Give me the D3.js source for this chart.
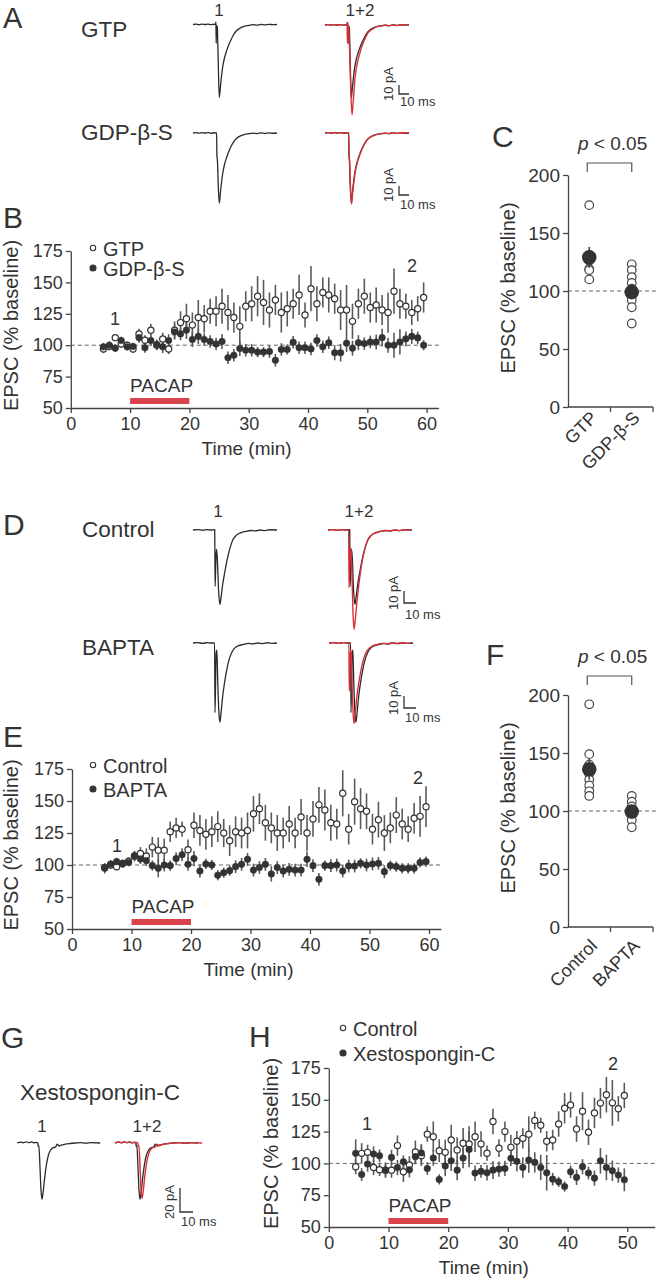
<!DOCTYPE html>
<html><head><meta charset="utf-8">
<script src="https://cdnjs.cloudflare.com/ajax/libs/d3/7.8.5/d3.min.js"></script>
<style>
body{margin:0;background:#fff}
svg{display:block}
text{font-family:"Liberation Sans",Arial,Helvetica,sans-serif;fill:#333}
</style>
</head><body>
<svg id="fig" width="656" height="1280"></svg>
<script>
// ---------------- DATA ----------------
// Panel B (time in min, EPSC % baseline, SEM)
const timeB = [5.5,6.5,7.5,8.5,9.5,10.5,11.5,12.5,13.5,14.5,15.5,16.5,17.5,18.5,19.5,20.5,21.5,22.5,23.5,24.5,25.5,26.5,27.5,28.5,29.5,30.5,31.5,32.5,33.5,34.5,35.5,36.5,37.5,38.5,39.5,40.5,41.5,42.5,43.5,44.5,45.5,46.5,47.5,48.5,49.5,50.5,51.5,52.5,53.5,54.5,55.5,56.5,57.5,58.5,59.5];
const gtpB = [97,99,106,101,100,97,109,104,112,100,105,97,112,118,121,116,122,121,127,127,131,126,122,115,131,133,139,134,128,136,126,129,133,140,124,145,133,142,140,137,128,128,119,133,139,130,132,128,126,143,133,131,126,129,138];
const gtpBErr = [3,2,2,3,3,3,4,4,5,4,5,4,7,9,12,10,14,11,10,12,14,14,12,16,12,14,16,18,14,12,16,14,12,16,10,18,14,12,14,12,16,20,14,12,14,12,14,12,16,18,12,10,10,10,12];
const gdpB = [98.7,100,97.6,103.7,98.7,99,106,98,103.7,100.5,98.7,103.7,110.5,109,112,104.5,107,104.5,103,101,103,90,92,97.4,96,96,94.5,94.5,95,88,96.6,96.6,102.4,98,98,97,103.7,98.7,102,94,94,101.6,97.6,102,101.3,102.6,102.6,106,100,100,102.6,105,107,105.8,100];
const gdpBErr = [3,3,3,3,3,3,4,4,4,4,5,5,6,5,7,6,6,5,5,5,6,5,5,6,5,5,4,4,5,5,5,4,5,5,5,5,5,5,5,6,7,7,6,6,5,5,6,7,6,10,10,6,6,5,4];

// Panel C (individual cells and mean +/- SEM)
const catsC = ["GTP","GDP-\u03b2-S"];
const cellsC = [[174,131,126,119,118,110],[123,118,112,107,102,97,92,86,72]];
const meanC = [129,99];
const semC = [9,4];

// Panel E
const timeE = [5.5,6.5,7.5,8.5,9.5,10.5,11.5,12.5,13.5,14.5,15.5,16.5,17.5,18.5,19.5,20.5,21.5,22.5,23.5,24.5,25.5,26.5,27.5,28.5,29.5,30.5,31.5,32.5,33.5,34.5,35.5,36.5,37.5,38.5,39.5,40.5,41.5,42.5,43.5,44.5,45.5,46.5,47.5,48.5,49.5,50.5,51.5,52.5,53.5,54.5,55.5,56.5,57.5,58.5,59.5];
const ctrlE = [98,100,98.7,101,103,107,109,107,114,111.6,111.6,126,129,128,112,131,127,124,126,130,125,119,126,125,127,140,144,133,129,125,125,132,125,137.5,125,136,147,143,133,132,156,128,149.5,144,142,128,135.4,125,129,139,132,128,136.5,138,145.6];
const ctrlEErr = [3,3,3,3,3,4,5,6,8,10,9,8,8,6,8,10,12,12,12,12,11,12,12,12,14,14,12,14,12,14,12,14,12,14,14,14,14,16,14,12,18,12,18,16,14,12,14,14,12,14,12,10,12,16,16];
const baptaE = [97.4,100.8,102.6,101.3,102,107,104.7,103.4,99.5,97.4,100,99.5,105,108,100.5,105,95.3,100.8,100,92,94,95.6,98.7,100.5,104.4,96,98,100.5,93,98,95.3,96.6,96,96,104.4,99.5,88.8,99.5,99.5,100,95.3,99.2,99.2,101.3,100,100.8,101.3,94.8,99.5,98.7,97.4,97.4,97.4,102,102.6];
const baptaEErr = [4,3,3,3,3,4,4,4,4,7,5,4,5,5,5,6,5,4,4,4,4,4,5,5,5,5,5,5,6,5,5,5,5,5,6,5,5,4,5,5,5,5,5,4,5,5,5,5,4,4,4,4,4,4,4];

// Panel F
const catsF = ["Control","BAPTA"];
const cellsF = [[192,149,140,132,127,122,117,113],[113,108,104,100,96,92,86]];
const meanF = [136,99.5];
const semF = [9,4];

// Panel H
const timeH = [4.5,5.5,6.5,7.5,8.5,9.5,10.5,11.5,12.5,13.5,14.5,15.5,16.5,17.5,18.5,19.5,20.5,21.5,22.5,23.5,24.5,25.5,26.5,27.5,28.5,29.5,30.5,31.5,32.5,33.5,34.5,35.5,36.5,37.5,38.5,39.5,40.5,41.5,42.5,43.5,44.5,45.5,46.5,47.5,48.5,49.5];
const ctrlH = [97.4,107.9,108.7,96.8,95,94.7,94.7,114,93.4,98.7,109,106,123,121,110,108.7,118.4,110.5,115.8,115.3,121,115.3,108,133,112,125,112.6,117.4,119.7,123,133.7,130,117.4,118.4,131,143.4,146,127,141,124.5,139.7,147.4,154,147.6,143,153.4];
const ctrlHErr = [6,8,6,6,5,6,6,8,8,7,9,8,6,12,9,10,12,10,12,14,12,10,6,10,7,8,10,8,8,14,7,6,8,8,10,12,10,10,15,10,12,12,14,18,10,10];
const xestoH = [107.9,91.3,99.5,107.4,106,94.7,104.7,96.8,101.3,95,105.3,108.2,96,104.2,87.4,98,102,94.7,104.2,111,92.4,93.7,92.6,94.7,95.5,96,104,101.6,96.8,102.6,100.8,96.8,92.6,87.6,85.5,81.8,93.4,89,97.4,92.4,88.4,102,96.8,94.2,90.8,87.1];
const xestoHErr = [11,5,6,6,5,5,6,6,5,6,6,7,5,6,4,8,8,8,8,14,6,5,6,7,6,6,6,8,8,10,8,10,14,5,4,4,5,6,6,5,6,10,10,8,6,9];

const yTicksTS = [50,75,100,125,150,175];
const xTicksB = [0,10,20,30,40,50,60];
const xTicksH = [0,10,20,30,40,50];
const yTicksDot = [0,50,100,150,200];
const pacap = [10,20];

// Example EPSC traces, keypoints: [ms, pA]
const trGTP1 = [[0,0],[3,0.4],[6,-0.3],[9,0.5],[12,0],[15,0.4],[18,-0.2],[21,0.3],[22.6,0],[22.9,3],[23.2,-21],[23.5,-1],[24.3,-3],[25.2,-40],[26.3,-81],[27.5,-68],[29.7,-47],[31.5,-37],[33.7,-29],[36,-22],[38,-17],[40,-12.5],[43,-7.5],[47,-4],[51,-2],[56,-1],[60,-0.2],[64,-0.7],[68,0.1],[72,-0.4],[76,0.2],[80,-0.2],[84,0]];
const trGTP2 = [[0,0],[3,0.4],[6,-0.3],[9,0.4],[12,0],[15,0.4],[18,-0.2],[20.5,0.3],[21.8,0],[22.1,3],[22.4,-20],[22.7,-1],[23.8,-4],[25.3,-55],[27,-100],[28.2,-85],[30.2,-57],[32,-44],[34.2,-34],[36.5,-25],[38.5,-19],[40.5,-14],[43.5,-8],[47.5,-4.5],[51.5,-2],[56,-1],[60,-0.3],[64,-0.8],[68,0],[72,-0.5],[76,0.2],[83,0]];
const trGDP1 = [[0,0],[3,0.5],[6,-0.2],[9,0.5],[12,0],[15,0.4],[18,-0.3],[21,0.3],[23.6,0],[23.9,-25],[24.4,-30],[25.3,-60],[26.3,-78],[27.5,-65],[29.7,-45],[31.5,-35],[33.7,-27],[36,-20],[38,-15],[40,-11],[43,-6.5],[47,-3.5],[51,-1.8],[56,-0.8],[60,-0.2],[64,-0.7],[68,0.2],[72,-0.4],[76,0.2],[80,-0.3],[84,0]];
const trGDP2 = [[0,0],[3,0.4],[6,-0.2],[9,0.5],[12,0],[15,0.4],[18,-0.3],[21,0.2],[22.8,0],[23.1,-25],[23.6,-30],[24.5,-60],[25.5,-79],[26.7,-66],[28.9,-46],[30.7,-35],[33,-27],[35.2,-20],[37.2,-15],[39.2,-11],[42.2,-6.5],[46.2,-3.5],[50.2,-1.8],[55,-0.8],[59,-0.2],[63,-0.7],[67,0.2],[71,-0.4],[75,0.2],[83,0]];
const trCtl1 = [[0,0],[4,0.3],[8,-0.2],[12,0.3],[15,0],[18,0.2],[18.1,0],[18.4,-47],[18.9,-32],[19.5,-16],[20.3,-24],[21.3,-50],[22.4,-62],[23.4,-56],[24.8,-45],[26.5,-35],[28,-27],[30,-18],[31.8,-12],[33.3,-8],[36,-4.5],[40,-2.2],[44,-1.2],[48,-0.4],[52,-0.8],[56,0],[60,-0.5],[64,0.2],[70,0]];
const trCtl2 = [[0,0],[4,0.3],[8,-0.2],[12,0.3],[15,0],[17.2,0],[17.5,-48],[18.2,-26],[19.1,-15],[19.9,-35],[20.8,-68],[21.7,-83],[22.8,-74],[24.3,-58],[26,-43],[27.5,-32],[29.5,-21],[31.5,-13],[33,-9],[35.5,-5],[39.5,-2.5],[43.5,-1.2],[47.5,-0.4],[51.5,-0.8],[55.5,0],[59.5,-0.5],[63.5,0.2],[69,0]];
const trBap1 = [[0,0],[4,0.3],[8,-0.3],[12,0.3],[15,0],[18,0],[18.3,-58],[18.8,-35],[19.3,-8],[19.9,-6],[20.7,-35],[21.6,-58],[22.4,-66],[23.4,-58],[24.8,-44],[26.3,-33],[28,-23],[30,-14],[32,-8.5],[34.5,-4.5],[38,-2.2],[42,-1.2],[46,-0.3],[50,-0.8],[54,0],[58,-0.5],[62,0.2],[66,-0.3],[70,0]];
const trBap2 = [[0,0],[4,0.3],[8,-0.3],[12,0.3],[15,0],[16.6,0],[16.9,-40],[17.4,-20],[17.9,-6],[18.5,-8],[19.3,-38],[20.1,-58],[20.8,-67],[21.8,-59],[23.2,-45],[24.7,-34],[26.4,-24],[28.4,-15],[30.4,-9],[32.9,-5],[36.4,-2.4],[40.4,-1.2],[44,-0.3],[48,-0.8],[52,0],[56,-0.5],[60,0.2],[64,-0.3],[68,0]];
const trXes1 = [[0,0],[3,0.8],[5,0.2],[7,1],[9,0.3],[11,0.9],[13,0.2],[15,0.6],[16,0],[16.3,-3],[16.8,-2],[17.6,-18],[18.4,-38],[19.2,-47],[20.2,-40],[21.4,-28],[22.8,-17],[24.2,-10],[25.8,-6],[27.5,-4],[29.5,-3.5],[31,-1],[32.5,-2.5],[34,-1.8],[37,-1],[41,-0.4],[45,0],[49,0.3],[53,-0.2],[57,0.3],[64,0]];
const trXes2 = [[0,0],[3,0.8],[5,0.2],[7,1],[9,0.3],[11,0.9],[13,0.2],[15,0.6],[17.6,0],[17.9,-3],[18.4,-2],[19.2,-18],[20,-38],[20.8,-46],[21.8,-39],[23,-27],[24.4,-16],[25.8,-9.5],[27.4,-5.5],[29.1,-3.8],[31.1,-3.2],[32.6,-1],[34.1,-2.3],[35.6,-1.6],[38.6,-0.9],[42.6,-0.3],[47,0],[51,0.3],[55,-0.2],[59,0.3],[67,0]];

// ---------------- DRAWING ----------------
const svg = d3.select('#fig');
const FONT = '"Liberation Sans", Arial, Helvetica, sans-serif';
const INK = '#333';
const AX = '#444';
const RED = '#d8303b';
const BARRED = '#d9434b';

function txt(x, y, s, size, opt = {}) {
  const t = svg.append('text').attr('x', x).attr('y', y).attr('font-size', size).text(s);
  if (opt.anchor) t.attr('text-anchor', opt.anchor);
  if (opt.rotate) t.attr('transform', `rotate(${opt.rotate},${x},${y})`);
  return t;
}

function styleAxis(a, fs) {
  a.attr('font-family', FONT);
  a.select('.domain').attr('stroke', AX).attr('stroke-width', 1.3);
  a.selectAll('.tick line').attr('stroke', AX).attr('stroke-width', 1.3);
  a.selectAll('.tick text').attr('font-size', fs).attr('fill', INK);
}

function timeSeries(o) {
  const x = d3.scaleLinear().domain(o.xDomain).range(o.xRange);
  const y = d3.scaleLinear().domain([50, 175]).range(o.yRange);
  const g = svg.append('g');
  g.append('line').attr('x1', x(0)).attr('x2', o.dashEnd).attr('y1', y(100)).attr('y2', y(100))
    .attr('stroke', '#666').attr('stroke-width', 1).attr('stroke-dasharray', '4,3');
  const ax = g.append('g').attr('transform', `translate(0,${y(50)})`)
    .call(d3.axisBottom(x).tickValues(o.xTicks).tickSize(5).tickSizeOuter(0).tickPadding(4));
  const ay = g.append('g').attr('transform', `translate(${x(0)},0)`)
    .call(d3.axisLeft(y).tickValues(yTicksTS).tickSize(5).tickSizeOuter(0).tickPadding(3));
  styleAxis(ax, 18); styleAxis(ay, 18);

  const rows = o.series.map(s => s.t.map((t, i) => ({ t, v: s.v[i], e: s.e[i] })));
  o.series.forEach((s, k) => {
    g.append('g').selectAll('line').data(rows[k]).join('line')
      .attr('x1', d => x(d.t)).attr('x2', d => x(d.t))
      .attr('y1', d => y(d.v - d.e)).attr('y2', d => y(d.v + d.e))
      .attr('stroke', '#5a5a5a').attr('stroke-width', 1.6);
  });
  o.series.forEach((s, k) => {
    g.append('g').selectAll('circle').data(rows[k]).join('circle')
      .attr('cx', d => x(d.t)).attr('cy', d => y(d.v))
      .attr('r', s.filled ? 3.3 : 3.1)
      .attr('fill', s.filled ? INK : '#fff')
      .attr('stroke', INK).attr('stroke-width', s.filled ? 0.5 : 1.2);
  });
  g.append('rect').attr('x', x(pacap[0])).attr('width', x(pacap[1]) - x(pacap[0]))
    .attr('y', o.barY).attr('height', 6).attr('fill', BARRED);
  txt(x(pacap[0]), o.barY - 6, 'PACAP', 19);
  o.legend.forEach((l, i) => {
    svg.append('circle').attr('cx', o.legX).attr('cy', o.legY[i]).attr('r', l.filled ? 3 : 2.7)
      .attr('fill', l.filled ? INK : '#fff').attr('stroke', INK).attr('stroke-width', 1.1);
    txt(o.legX + 10, o.legY[i] + 7.5, l.name, 20);
  });
  txt(o.lab1[0], o.lab1[1], '1', 18, { anchor: 'middle' });
  txt(o.lab2[0], o.lab2[1], '2', 18, { anchor: 'middle' });
  txt((o.xRange[0] + o.xRange[1]) / 2 - 8, y(50) + 47, 'Time (min)', 19, { anchor: 'middle' });
  txt(o.yLabX, (o.yRange[0] + o.yRange[1]) / 2 - 4, 'EPSC (% baseline)', 20, { anchor: 'middle', rotate: -90 });
}

function dotPanel(o) {
  const x = d3.scaleBand().domain(o.cats).range([568, 653]);
  const y = d3.scaleLinear().domain([0, 200]).range([o.yBottom, o.yTop]);
  const g = svg.append('g');
  g.append('line').attr('x1', 568).attr('x2', 656).attr('y1', y(100)).attr('y2', y(100))
    .attr('stroke', '#666').attr('stroke-width', 1).attr('stroke-dasharray', '4,3');
  const ay = g.append('g').attr('transform', 'translate(568,0)')
    .call(d3.axisLeft(y).tickValues(yTicksDot).tickSize(5).tickSizeOuter(0).tickPadding(3));
  styleAxis(ay, 19);
  g.append('line').attr('x1', 568).attr('x2', 653).attr('y1', y(0)).attr('y2', y(0))
    .attr('stroke', AX).attr('stroke-width', 1.3);
  o.cats.forEach((c, i) => {
    const bx = x(c) + x.bandwidth();
    g.append('line').attr('x1', bx).attr('x2', bx).attr('y1', y(0)).attr('y2', y(0) + 5)
      .attr('stroke', AX).attr('stroke-width', 1.3);
    const cx = x(c) + x.bandwidth() / 2;
    g.append('g').selectAll('circle').data(o.cells[i]).join('circle')
      .attr('cx', cx).attr('cy', d => y(d)).attr('r', 4.3)
      .attr('fill', '#fff').attr('stroke', '#444').attr('stroke-width', 1.2);
    g.append('line').attr('x1', cx).attr('x2', cx)
      .attr('y1', y(o.mean[i] - o.sem[i])).attr('y2', y(o.mean[i] + o.sem[i]))
      .attr('stroke', '#444').attr('stroke-width', 1.6);
    g.append('circle').attr('cx', cx).attr('cy', y(o.mean[i])).attr('r', 7.3).attr('fill', INK);
    txt(cx + 9, y(0) + o.labOff, c, 18, { anchor: 'end', rotate: -45 });
  });
  const x1 = x(o.cats[0]) + x.bandwidth() / 2 - 2, x2 = x(o.cats[1]) + x.bandwidth() / 2;
  g.append('path').attr('d', `M${x1},${o.brY + 9}V${o.brY}H${x2}V${o.brY + 9}`)
    .attr('fill', 'none').attr('stroke', '#555').attr('stroke-width', 1.2);
  const p = txt(578, o.brY - 13, '', 19);
  p.append('tspan').attr('font-style', 'italic').text('p');
  p.append('tspan').text(' < 0.05');
  txt(515, (o.yBottom + o.yTop) / 2 - 3, 'EPSC (% baseline)', 20, { anchor: 'middle', rotate: -90 });
}

function drawTrace(data, o, color, w) {
  const xs = d3.scaleLinear().domain([0, 10]).range([o.x0, o.x0 + 10 * o.pxMs]);
  const ys = d3.scaleLinear().domain([0, -10]).range([o.base, o.base + 10 * o.pxPA]);
  svg.append('path')
    .attr('d', d3.line().x(d => xs(d[0])).y(d => ys(d[1])).curve(d3.curveMonotoneX)(data))
    .attr('fill', 'none').attr('stroke', color).attr('stroke-width', w)
    .attr('stroke-linejoin', 'round');
}

function scaleBar(o) {
  const xs = d3.scaleLinear().domain([0, o.ms]).range([o.x, o.x + o.ms * o.pxMs]);
  const ys = d3.scaleLinear().domain([0, o.pA]).range([o.y, o.y - o.pA * o.pxPA]);
  svg.append('path').attr('d', `M${o.x},${ys(o.pA)}V${o.y}H${xs(o.ms)}`)
    .attr('fill', 'none').attr('stroke', '#333').attr('stroke-width', 1.3);
  txt(o.x - 6, o.y - 10, `${o.pA} pA`, 13, { anchor: 'middle', rotate: -90 });
  txt(o.x + 1, o.y + o.msDy, `${o.ms} ms`, 13);
}

// ---- Panel A ----
txt(3, 28, 'A', 29);
txt(81, 37, 'GTP', 22.5);
txt(81, 140, 'GDP-\u03b2-S', 22.5);
txt(219, 16, '1', 17, { anchor: 'middle' });
txt(360, 16, '1+2', 17, { anchor: 'middle' });
const sA = { pxMs: 1, pxPA: 0.9 };
drawTrace(trGTP1, { ...sA, x0: 193, base: 24.5 }, '#2b2b2b', 1.3);
drawTrace(trGTP1, { ...sA, x0: 325, base: 25 }, '#2b2b2b', 1.3);
drawTrace(trGTP2, { ...sA, x0: 325, base: 25 }, RED, 1.4);
drawTrace(trGDP1, { ...sA, x0: 193, base: 133 }, '#2b2b2b', 1.3);
drawTrace(trGDP1, { ...sA, x0: 325, base: 133 }, '#2b2b2b', 1.3);
drawTrace(trGDP2, { ...sA, x0: 326, base: 133 }, RED, 1.4);
scaleBar({ x: 399, y: 94, pA: 10, ms: 10, ...sA, msDy: 12 });
scaleBar({ x: 399, y: 195, pA: 10, ms: 10, ...sA, msDy: 14 });

// ---- Panel B ----
txt(3, 228, 'B', 30);
timeSeries({
  xDomain: [0, 62], xRange: [70.8, 70.8 + 62 * 5.93], yRange: [408, 251], xTicks: xTicksB,
  dashEnd: 440, barY: 398,
  series: [
    { t: timeB, v: gtpB, e: gtpBErr, filled: false },
    { t: timeB, v: gdpB, e: gdpBErr, filled: true }
  ],
  legend: [{ name: 'GTP', filled: false }, { name: 'GDP-\u03b2-S', filled: true }],
  legX: 93, legY: [248, 268], lab1: [115, 325], lab2: [412, 272], yLabX: 18
});

// ---- Panel C ----
txt(492, 147, 'C', 30);
dotPanel({ cats: catsC, cells: cellsC, mean: meanC, sem: semC, yBottom: 407, yTop: 175, brY: 163, labOff: 12 });

// ---- Panel D ----
txt(3, 535, 'D', 30);
txt(82, 537, 'Control', 22.5);
txt(82, 655, 'BAPTA', 22.5);
txt(218, 517, '1', 17, { anchor: 'middle' });
txt(359, 517, '1+2', 17, { anchor: 'middle' });
const sD = { pxMs: 1.2, pxPA: 1.2 };
drawTrace(trCtl1, { ...sD, x0: 193, base: 530 }, '#2b2b2b', 1.3);
drawTrace(trCtl1, { ...sD, x0: 328, base: 530 }, '#2b2b2b', 1.3);
drawTrace(trCtl2, { ...sD, x0: 328, base: 530 }, RED, 1.4);
drawTrace(trBap1, { ...sD, x0: 193, base: 643 }, '#2b2b2b', 1.3);
drawTrace(trBap1, { ...sD, x0: 329, base: 643 }, '#2b2b2b', 1.3);
drawTrace(trBap2, { ...sD, x0: 329, base: 643 }, RED, 1.4);
scaleBar({ x: 404, y: 603, pA: 10, ms: 10, ...sD, msDy: 16 });
scaleBar({ x: 404, y: 708, pA: 10, ms: 10, ...sD, msDy: 14 });

// ---- Panel E ----
txt(3, 747, 'E', 30);
timeSeries({
  xDomain: [0, 62], xRange: [72, 72 + 62 * 5.95], yRange: [929, 769], xTicks: xTicksB,
  dashEnd: 443, barY: 919,
  series: [
    { t: timeE, v: ctrlE, e: ctrlEErr, filled: false },
    { t: timeE, v: baptaE, e: baptaEErr, filled: true }
  ],
  legend: [{ name: 'Control', filled: false }, { name: 'BAPTA', filled: true }],
  legX: 93, legY: [765, 789], lab1: [117, 852], lab2: [418, 784], yLabX: 18
});

// ---- Panel F ----
txt(486, 665, 'F', 30);
dotPanel({ cats: catsF, cells: cellsF, mean: meanF, sem: semF, yBottom: 927, yTop: 695, brY: 676, labOff: 20 });

// ---- Panel G ----
txt(1, 1048, 'G', 30);
txt(20, 1100, 'Xestospongin-C', 22.5);
txt(42, 1132, '1', 17, { anchor: 'middle' });
txt(147, 1132, '1+2', 17, { anchor: 'middle' });
const sG = { pxMs: 1.3, pxPA: 1.2 };
drawTrace(trXes1, { ...sG, x0: 17, base: 1143 }, '#2b2b2b', 1.3);
drawTrace(trXes1, { ...sG, x0: 115, base: 1143 }, '#2b2b2b', 1.3);
drawTrace(trXes2, { ...sG, x0: 115, base: 1143 }, RED, 1.4);
scaleBar({ x: 180, y: 1212, pA: 20, ms: 10, ...sG, msDy: 14 });

// ---- Panel H ----
txt(249, 1047, 'H', 30);
timeSeries({
  xDomain: [0, 54.6], xRange: [328.8, 328.8 + 54.6 * 5.97], yRange: [1227, 1068], xTicks: xTicksH,
  dashEnd: 656, barY: 1218,
  series: [
    { t: timeH, v: ctrlH, e: ctrlHErr, filled: false },
    { t: timeH, v: xestoH, e: xestoHErr, filled: true }
  ],
  legend: [{ name: 'Control', filled: false }, { name: 'Xestospongin-C', filled: true }],
  legX: 343, legY: [1028, 1053], lab1: [367, 1130], lab2: [613, 1070], yLabX: 278
});
</script>
</body></html>
